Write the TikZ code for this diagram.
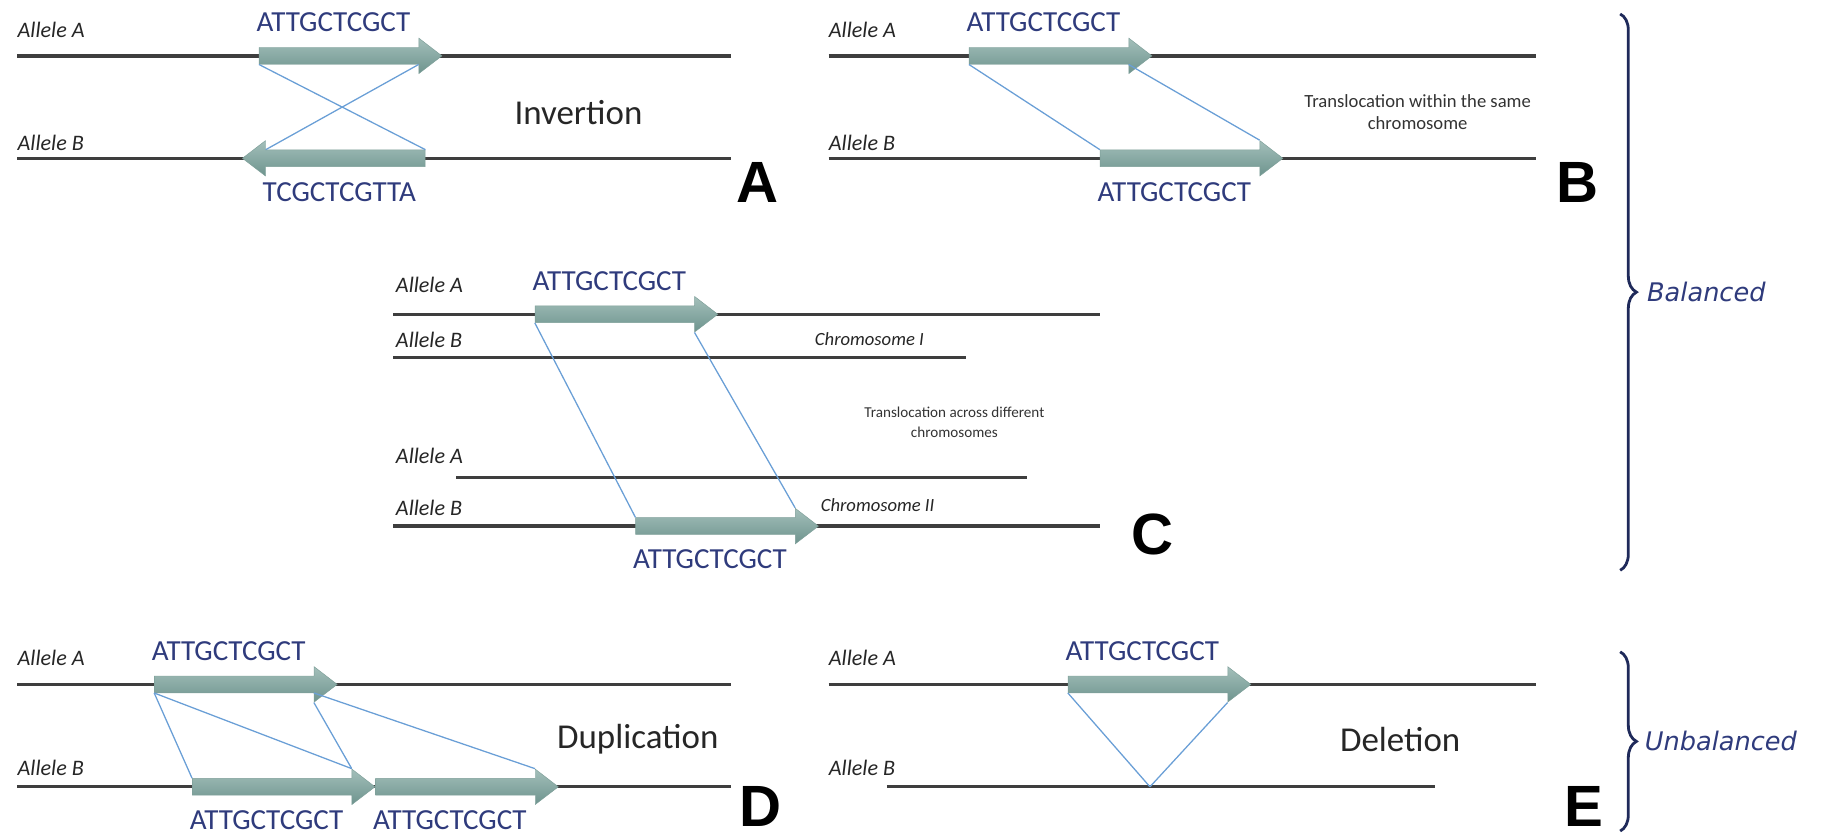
\documentclass[tikz,border=0pt]{standalone}
\usepackage{fontspec}
\setmainfont{Carlito}
\newfontfamily\letterfont{Liberation Sans}
\newfontfamily\groupfont{DejaVu Sans}
\usetikzlibrary{positioning,shapes.arrows,decorations.pathreplacing}

\definecolor{chromgray}{HTML}{3E3E3E}
\definecolor{linkblue}{HTML}{6A9FD6}
\definecolor{seqnavy}{HTML}{2F3B7C}
\definecolor{bracenavy}{HTML}{1F2A5A}
\definecolor{genetop}{HTML}{A3BFBA}
\definecolor{genebot}{HTML}{6E948E}
\definecolor{geneedge}{HTML}{7E9F99}

\begin{document}
\begin{tikzpicture}[x=1pt,y=-1pt,
    chrom/.style={draw=chromgray, line width=2.9pt},
    gene/.style={single arrow, draw=geneedge, top color=genetop, bottom color=genebot,
        minimum height=157pt, inner sep=7pt, single arrow head extend=8pt,
        single arrow tip angle=75},
    revgene/.style={gene, shape border rotate=180},
    link/.style={draw=linkblue, line width=1.1pt},
    allele/.style={anchor=west, inner sep=0pt, text=black!85,
        font=\fontsize{19}{22}\selectfont\itshape},
    chrname/.style={allele, font=\fontsize{16}{19}\selectfont\itshape},
    seq/.style={inner sep=0pt, text=seqnavy, font=\fontsize{25}{28}\selectfont},
    event/.style={inner sep=0pt, text=black!85, font=\fontsize{30}{34}\selectfont},
    note/.style={align=center, inner sep=0pt, text=black!80, font=\fontsize{16}{19}\selectfont},
    panel/.style={inner sep=0pt, font=\letterfont\bfseries\fontsize{50}{50}\selectfont},
    group/.style={anchor=west, inner sep=0pt, text=seqnavy, font=\groupfont\itshape\fontsize{22}{26}\selectfont},
    grp/.style={draw=bracenavy, line width=2.4pt, decorate, decoration={brace, amplitude=14pt}}]
    \useasboundingbox (0,0) rectangle (1568,718);

    % A: inversion
    \node[allele] (aA) at (15,26) {Allele A};
    \node[allele] (aB) at (15,123) {Allele B};
    \draw[chrom] (15,48) -- (628,48);
    \draw[chrom] (15,136) -- (628,136);
    \node[gene] (a1) at (296.5,48) {};
    \node[revgene] (a2) at (291.5,136) {};
    \node[seq, above=13pt of a1, xshift=-10pt] (sa1) {ATTGCTCGCT};
    \node[seq, below=13pt of a2] (sa2) {TCGCTCGTTA};
    \path[link] (a1.before tail) -- (a2.before tail);
    \path[link] (a2.after head) -- (a1.after head);
    \node[event] (inv) at (497,97) {Invertion};
    \node[panel] (pA) at (651,157) {A};

    % B: translocation, same chromosome
    \node[allele] (bA) at (712,26) {Allele A};
    \node[allele] (bB) at (712,123) {Allele B};
    \draw[chrom] (712,48) -- (1320,48);
    \draw[chrom] (712,136) -- (1320,136);
    \node[gene] (b1) at (906.5,48) {};
    \node[gene] (b2) at (1019,136) {};
    \node[seq, above=13pt of b1, xshift=-10pt] (sb1) {ATTGCTCGCT};
    \node[seq, below=13pt of b2, xshift=-10pt] (sb2) {ATTGCTCGCT};
    \path[link] (b1.before tail) -- (b2.after tail);
    \path[link] (b1.after head) -- (b2.before tip);
    \node[note] (trb) at (1218,96) {Translocation within the same\\chromosome};
    \node[panel] (pB) at (1355,157) {B};

    % C: translocation, different chromosomes
    \node[allele] (cA1) at (340,245) {Allele A};
    \node[allele] (cB1) at (340,292) {Allele B};
    \node[allele] (cA2) at (340,392) {Allele A};
    \node[allele] (cB2) at (340,436) {Allele B};
    \draw[chrom] (338,270) -- (945,270);
    \draw[chrom] (338,307) -- (830,307);
    \draw[chrom] (392,410) -- (882,410);
    \draw[chrom] (338,452) -- (945,452);
    \node[gene] (c1) at (533.5,270) {};
    \node[gene] (c2) at (620,452) {};
    \node[seq, above=13pt of c1, xshift=-10pt] (sc1) {ATTGCTCGCT};
    \node[seq, below=13pt of c2, xshift=-10pt] (sc2) {ATTGCTCGCT};
    \path[link] (c1.before tail) -- (c2.after tail);
    \path[link] (c1.after tip) -- (c2.before tip);
    \node[chrname] (chr1) at (700,291) {Chromosome I};
    \node[chrname] (chr2) at (705,434) {Chromosome II};
    \node[note, font=\fontsize{13}{17}\selectfont] (trc) at (820,363) {Translocation across different\\chromosomes};
    \node[panel] (pC) at (990,459) {C};

    % D: duplication
    \node[allele] (dA) at (15,565) {Allele A};
    \node[allele] (dB) at (15,660) {Allele B};
    \draw[chrom] (15,588) -- (628,588);
    \draw[chrom] (15,676) -- (628,676);
    \node[gene] (d1) at (206.5,588) {};
    \node[gene] (d2) at (239,676) {};
    \node[gene] (d3) at (396.5,676) {};
    \node[seq, above=13pt of d1, xshift=-10pt] (sd1) {ATTGCTCGCT};
    \node[seq, below=13pt of d2, xshift=-10pt] (sd2) {ATTGCTCGCT};
    \node[seq, below=13pt of d3, xshift=-10pt] (sd3) {ATTGCTCGCT};
    \path[link] (d1.before tail) -- (d2.after tail);
    \path[link] (d1.before tail) -- (d2.before tip);
    \path[link] (d1.after tip) -- (d2.before tip);
    \path[link] (d1.after head) -- (d3.before tip);
    \node[event] (dup) at (548,635) {Duplication};
    \node[panel] (pD) at (653,693) {D};

    % E: deletion
    \node[allele] (eA) at (712,565) {Allele A};
    \node[allele] (eB) at (712,660) {Allele B};
    \draw[chrom] (712,588) -- (1320,588);
    \draw[chrom] (762,676) -- (1233,676);
    \node[gene] (e1) at (991.5,588) {};
    \node[seq, above=13pt of e1, xshift=-10pt] (se1) {ATTGCTCGCT};
    \coordinate (gap) at (988,676);
    \path[link] (e1.before tail) -- (gap);
    \path[link] (e1.after tip) -- (gap);
    \node[event] (del) at (1203,635) {Deletion};
    \node[panel] (pE) at (1361,693) {E};

    % groups
    \draw[grp] (1392,12) -- (1392,490) node[group, midway, right=22pt] (bal) {Balanced};
    \draw[grp] (1392,560) -- (1392,714) node[group, midway, right=20pt] (unbal) {Unbalanced};
\end{tikzpicture}
\end{document}
